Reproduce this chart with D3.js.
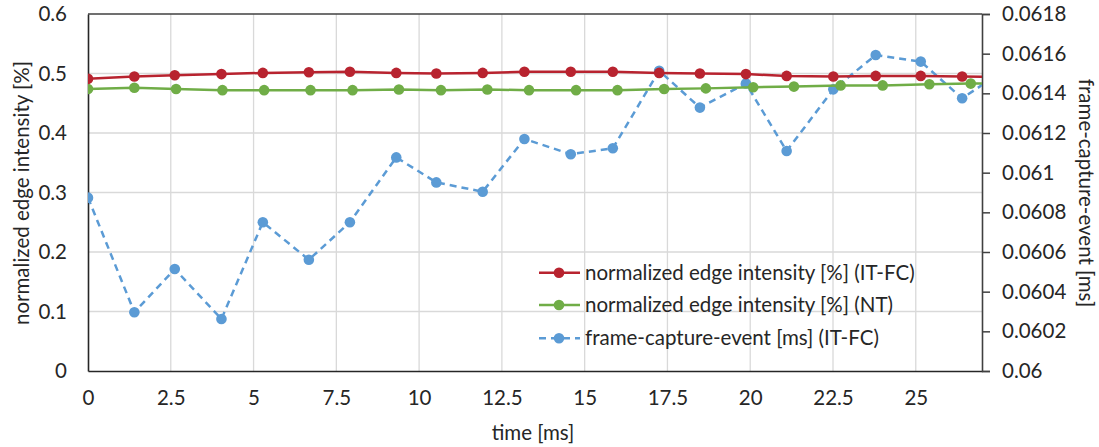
<!DOCTYPE html>
<html>
<head>
<meta charset="utf-8">
<script src="https://cdn.jsdelivr.net/npm/d3@7"></script>
<style>
  html, body { margin: 0; padding: 0; background: #fff; }
  svg { display: block; font-family: Lato, "Open Sans", sans-serif; }
</style>
</head>
<body>
<svg id="chart" width="1099" height="447"></svg>
<script>
// Sample times (ms) for the two measurement runs
const timeITFC = [0, 1.40, 2.62, 4.03, 5.28, 6.67, 7.91, 9.31, 10.52, 11.92, 13.18,
                  14.58, 15.85, 17.25, 18.48, 19.87, 21.10, 22.51, 23.79, 25.15, 26.40, 27.80];
const timeNT   = [0, 1.40, 2.66, 4.06, 5.32, 6.72, 7.99, 9.39, 10.66, 12.06, 13.32,
                  14.74, 15.99, 17.40, 18.66, 20.09, 21.32, 22.73, 24.00, 25.41, 26.66, 28.06];

// Normalized edge intensity [%]
const edgeITFC = [0.491, 0.495, 0.497, 0.499, 0.501, 0.502, 0.503, 0.501, 0.500, 0.501, 0.503,
                  0.503, 0.503, 0.501, 0.500, 0.499, 0.496, 0.495, 0.496, 0.496, 0.495, 0.494];
const edgeNT   = [0.474, 0.476, 0.474, 0.472, 0.472, 0.472, 0.472, 0.473, 0.472, 0.473, 0.472,
                  0.472, 0.472, 0.474, 0.475, 0.477, 0.478, 0.480, 0.480, 0.482, 0.483, 0.484];

// Frame-capture-event [ms]
const frameITFC = [0.060874, 0.060296, 0.060514, 0.060262, 0.060750, 0.060561, 0.060750,
                   0.061077, 0.060951, 0.060904, 0.061170, 0.061093, 0.061123, 0.061514,
                   0.061328, 0.061450, 0.061109, 0.061420, 0.061593, 0.061560, 0.061375, 0.061530];

const xTicks = [0, 2.5, 5, 7.5, 10, 12.5, 15, 17.5, 20, 22.5, 25];
const yTicks = [0, 0.1, 0.2, 0.3, 0.4, 0.5, 0.6];
const y2Ticks = [0.06, 0.0602, 0.0604, 0.0606, 0.0608, 0.061, 0.0612, 0.0614, 0.0616, 0.0618];

const seriesNames = [
  "normalized edge intensity [%] (IT-FC)",
  "normalized edge intensity [%] (NT)",
  "frame-capture-event [ms] (IT-FC)"
];
const colors = ["#B8232F", "#70AD47", "#5B9BD5"];

const svg = d3.select("#chart");
const L = 88, R = 982, T = 14, B = 371;
const FS = 20.5;

const x = d3.scaleLinear().domain([0, 27]).range([L, R]);
const y = d3.scaleLinear().domain([0, 0.6]).range([B, T]);
const y2 = d3.scaleLinear().domain([0.06, 0.0618]).range([B, T]);

// gridlines
const grid = svg.append("g");
grid.selectAll("line.v").data(xTicks.slice(1)).join("line")
  .attr("x1", d => x(d)).attr("x2", d => x(d)).attr("y1", T).attr("y2", B)
  .attr("stroke", "#d9d9d9").attr("stroke-width", 1.3);
grid.selectAll("line.h").data(yTicks.slice(1, -1)).join("line")
  .attr("x1", L).attr("x2", R).attr("y1", d => y(d)).attr("y2", d => y(d))
  .attr("stroke", "#d9d9d9").attr("stroke-width", 1.3);

// frame
svg.append("line").attr("x1", L).attr("x2", R).attr("y1", T).attr("y2", T)
  .attr("stroke", "#404040").attr("stroke-width", 1.5);

// left axis
const yAxis = d3.axisLeft(y).tickValues(yTicks).tickSize(0).tickPadding(21)
  .tickFormat(d => d3.format("~g")(d));
const gy = svg.append("g").attr("transform", `translate(${L},0)`).call(yAxis);
gy.select(".domain").attr("stroke", "#262626").attr("stroke-width", 1.6);

// bottom axis
const xAxis = d3.axisBottom(x).tickValues(xTicks).tickSize(0).tickPadding(19)
  .tickFormat(d => d3.format("~g")(d));
const gx = svg.append("g").attr("transform", `translate(0,${B})`).call(xAxis);
gx.select(".domain").attr("stroke", "#262626").attr("stroke-width", 1.6);

// right axis
const y2Axis = d3.axisRight(y2).tickValues(y2Ticks).tickSize(8).tickPadding(12)
  .tickFormat(d => d3.format("~g")(d));
const gy2 = svg.append("g").attr("transform", `translate(${R},0)`).call(y2Axis);
gy2.select(".domain").attr("stroke", "#404040").attr("stroke-width", 1.6);
gy2.selectAll(".tick line").attr("stroke", "#404040").attr("stroke-width", 1.5);

svg.selectAll(".tick text").attr("font-size", FS).attr("font-family", "Lato, sans-serif")
  .attr("fill", "#262626");

// clip to plot area
svg.append("clipPath").attr("id", "plot").append("rect")
  .attr("x", L).attr("y", T - 8).attr("width", R - L).attr("height", B - T + 16);

const plot = svg.append("g").attr("clip-path", "url(#plot)");

function drawSeries(xs, ys, yScale, color, dash) {
  const pts = xs.map((t, i) => [t, ys[i]]);
  const line = d3.line().x(d => x(d[0])).y(d => yScale(d[1]));
  plot.append("path").datum(pts).attr("d", line)
    .attr("fill", "none").attr("stroke", color).attr("stroke-width", 2.5)
    .attr("stroke-dasharray", dash || null);
  plot.selectAll(null).data(pts.filter(d => d[0] <= 27)).join("circle")
    .attr("cx", d => x(d[0])).attr("cy", d => yScale(d[1])).attr("r", 5.3)
    .attr("fill", color);
}

drawSeries(timeITFC, frameITFC, y2, colors[2], "7,5");
drawSeries(timeNT, edgeNT, y, colors[1]);
drawSeries(timeITFC, edgeITFC, y, colors[0]);

// legend
const lg = svg.append("g");
const legY = [272.7, 305, 338.3];
seriesNames.forEach((name, i) => {
  const g = lg.append("g").attr("transform", `translate(539,${legY[i]})`);
  g.append("line").attr("x1", 0).attr("x2", 41).attr("y1", 0).attr("y2", 0)
    .attr("stroke", colors[i]).attr("stroke-width", 2.5)
    .attr("stroke-dasharray", i === 2 ? "7,5" : null);
  g.append("circle").attr("cx", 20).attr("cy", 0).attr("r", 5.3).attr("fill", colors[i]);
  g.append("text").attr("x", 46).attr("y", 0).attr("dy", "0.35em")
    .attr("font-size", FS).attr("fill", "#262626").text(name);
});

// axis titles
svg.append("text").attr("x", 533).attr("y", 433).attr("dy", "0.35em")
  .attr("text-anchor", "middle").attr("font-size", FS).attr("fill", "#262626")
  .text("time [ms]");
svg.append("text").attr("transform", "translate(22,193) rotate(-90)").attr("dy", "0.35em")
  .attr("text-anchor", "middle").attr("font-size", FS).attr("fill", "#262626")
  .text("normalized edge intensity [%]");
svg.append("text").attr("transform", "translate(1086,193) rotate(90)").attr("dy", "0.35em")
  .attr("text-anchor", "middle").attr("font-size", FS).attr("fill", "#262626")
  .text("frame-capture-event [ms]");
</script>
</body>
</html>
